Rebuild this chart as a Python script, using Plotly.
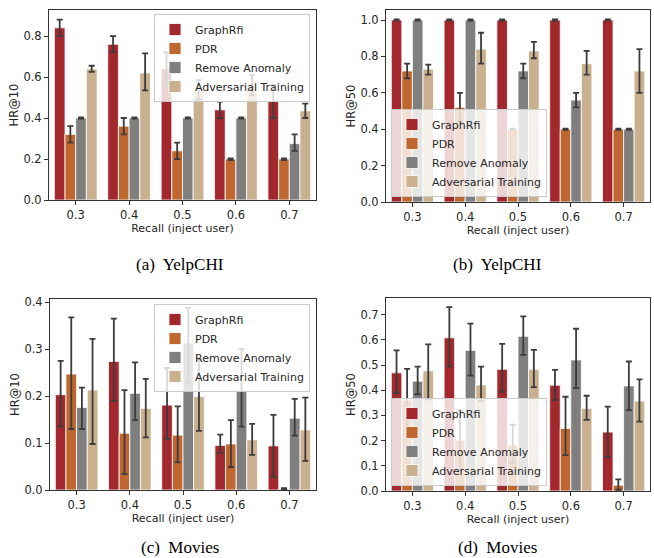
import plotly.graph_objects as go

categories = ["0.3", "0.4", "0.5", "0.6", "0.7"]
methods = ["GraphRfi", "PDR", "Remove Anomaly", "Adversarial Training"]
colors = ["#a3282e", "#bf672f", "#7f7f7f", "#c9b08e"]

# (a) YelpCHI HR@10
a_val = [[0.84, 0.76, 0.64, 0.44, 0.48],
         [0.32, 0.36, 0.24, 0.20, 0.20],
         [0.40, 0.40, 0.40, 0.40, 0.275],
         [0.64, 0.62, 0.535, 0.56, 0.435]]
a_lo = [[0.80, 0.72, 0.56, 0.40, 0.40],
        [0.28, 0.32, 0.20, 0.195, 0.195],
        [0.397, 0.397, 0.397, 0.397, 0.24],
        [0.625, 0.535, 0.49, 0.51, 0.40]]
a_hi = [[0.88, 0.80, 0.72, 0.48, 0.56],
        [0.36, 0.40, 0.28, 0.203, 0.203],
        [0.403, 0.403, 0.403, 0.403, 0.32],
        [0.655, 0.715, 0.585, 0.61, 0.47]]

# (b) YelpCHI HR@50
b_val = [[1.0, 1.0, 1.0, 1.0, 1.0],
         [0.72, 0.52, 0.40, 0.40, 0.40],
         [1.0, 1.0, 0.72, 0.56, 0.40],
         [0.73, 0.84, 0.83, 0.76, 0.72]]
b_lo = [[0.997, 0.997, 0.997, 0.997, 0.997],
        [0.68, 0.44, 0.397, 0.397, 0.397],
        [0.997, 0.997, 0.68, 0.52, 0.397],
        [0.70, 0.76, 0.79, 0.70, 0.60]]
b_hi = [[1.003, 1.003, 1.003, 1.003, 1.003],
        [0.76, 0.60, 0.403, 0.403, 0.403],
        [1.003, 1.003, 0.76, 0.60, 0.403],
        [0.755, 0.93, 0.88, 0.83, 0.84]]

# (c) Movies HR@10
c_val = [[0.203, 0.274, 0.181, 0.095, 0.094],
         [0.247, 0.121, 0.117, 0.098, 0.002],
         [0.176, 0.206, 0.313, 0.213, 0.153],
         [0.213, 0.174, 0.199, 0.107, 0.128]]
c_lo = [[0.135, 0.19, 0.109, 0.079, 0.028],
        [0.13, 0.034, 0.059, 0.049, 0.0],
        [0.13, 0.149, 0.229, 0.135, 0.116],
        [0.098, 0.112, 0.126, 0.075, 0.062]]
c_hi = [[0.275, 0.365, 0.26, 0.118, 0.16],
        [0.368, 0.213, 0.178, 0.149, 0.004],
        [0.218, 0.272, 0.388, 0.30, 0.194],
        [0.322, 0.237, 0.28, 0.141, 0.197]]

# (d) Movies HR@50
d_val = [[0.469, 0.608, 0.483, 0.42, 0.234],
         [0.361, 0.202, 0.182, 0.248, 0.023],
         [0.436, 0.558, 0.614, 0.52, 0.417],
         [0.477, 0.421, 0.483, 0.328, 0.357]]
d_lo = [[0.39, 0.495, 0.394, 0.361, 0.135],
        [0.24, 0.085, 0.11, 0.142, 0.005],
        [0.384, 0.458, 0.54, 0.408, 0.321],
        [0.364, 0.357, 0.412, 0.282, 0.275]]
d_hi = [[0.558, 0.73, 0.584, 0.481, 0.335],
        [0.485, 0.32, 0.263, 0.374, 0.046],
        [0.494, 0.664, 0.693, 0.644, 0.514],
        [0.582, 0.494, 0.56, 0.378, 0.443]]

y_titles = ["HR@10", "HR@50", "HR@10", "HR@50"]
y_ranges = [[0, 0.927], [0, 1.055], [0, 0.407], [0, 0.766]]
y_ticks = [[0, 0.2, 0.4, 0.6, 0.8], [0, 0.2, 0.4, 0.6, 0.8, 1.0],
           [0, 0.1, 0.2, 0.3, 0.4], [0, 0.1, 0.2, 0.3, 0.4, 0.5, 0.6, 0.7]]
captions = ["(a)  YelpCHI", "(b)  YelpCHI", "(c)  Movies", "(d)  Movies"]

W, H = 654, 558
# plot areas in pixels (left, right, top, bottom)
boxes = [(49, 316, 10, 200), (386, 650, 10, 202), (50, 316, 299, 490), (386, 650, 298, 491)]
legend_pos = [("right", "top", 310, 14), ("left", "bottom", 391, 197),
              ("right", "top", 310, 304), ("left", "bottom", 391, 486)]
caption_pos = [(180, 264), (497, 264), (180, 547), (497, 547)]

panels = [(a_val, a_lo, a_hi), (b_val, b_lo, b_hi), (c_val, c_lo, c_hi), (d_val, d_lo, d_hi)]

fig = go.Figure()
font = "DejaVu Sans"
dark = "#333333"
layout = dict(width=W, height=H, margin=dict(l=0, r=0, t=0, b=0, autoexpand=False),
              paper_bgcolor="white", plot_bgcolor="white",
              barmode="group", bargap=0.2, bargroupgap=0.0,
              font=dict(family=font, size=11, color="#262626"))

for p, (vals, lo, hi) in enumerate(panels):
    sfx = "" if p == 0 else str(p + 1)
    lname = "legend" + sfx
    for m in range(4):
        v = vals[m]
        fig.add_trace(go.Bar(
            x=list(range(len(categories))), y=v, name=methods[m],
            marker=dict(color=colors[m], line=dict(color="white", width=0.8)),
            error_y=dict(type="data", symmetric=False,
                         array=[h - y for h, y in zip(hi[m], v)],
                         arrayminus=[y - l for l, y in zip(lo[m], v)],
                         color="#3c3c3c", thickness=1.8, width=3),
            xaxis="x" + sfx, yaxis="y" + sfx, legend=lname, showlegend=True))
    l, r, t, b = boxes[p]
    layout["xaxis" + sfx] = dict(
        domain=[l / W, r / W], anchor="y" + sfx, range=[-0.5, 4.5], automargin=False,
        tickmode="array", tickvals=list(range(5)), ticktext=categories,
        showline=True, mirror=True, linecolor=dark, linewidth=1,
        ticks="outside", ticklen=4, tickcolor=dark, showgrid=False, zeroline=False,
        tickfont=dict(size=11.5),
        title=dict(text="Recall (inject user)", font=dict(size=11), standoff=3))
    layout["yaxis" + sfx] = dict(
        domain=[1 - b / H, 1 - t / H], anchor="x" + sfx, range=y_ranges[p], automargin=False,
        tickmode="array", tickvals=y_ticks[p], ticktext=[f"{v:.1f}" for v in y_ticks[p]],
        showline=True, mirror=True, linecolor=dark, linewidth=1,
        ticks="outside", ticklen=4, tickcolor=dark, showgrid=False, zeroline=False,
        tickfont=dict(size=11.5),
        title=dict(text=y_titles[p], font=dict(size=11.5), standoff=2))
    xa, ya, lx, ly = legend_pos[p]
    layout[lname] = dict(
        x=lx / W, y=1 - ly / H, xanchor=xa, yanchor=ya, xref="paper", yref="paper",
        bgcolor="rgba(255,255,255,0.8)", bordercolor="#cccccc", borderwidth=1,
        font=dict(size=11, family=font, color="#262626"), tracegroupgap=0,
        itemwidth=30)

fig.update_layout(**layout)

for p in range(4):
    cx, cy = caption_pos[p]
    fig.add_annotation(x=cx / W, y=1 - cy / H, xref="paper", yref="paper",
                       text=captions[p], showarrow=False,
                       font=dict(family="Liberation Serif", size=17, color="black"),
                       xanchor="center", yanchor="middle")

fig.write_html("out.html", config={"displayModeBar": False},
               post_script="document.body.style.margin='0';")
